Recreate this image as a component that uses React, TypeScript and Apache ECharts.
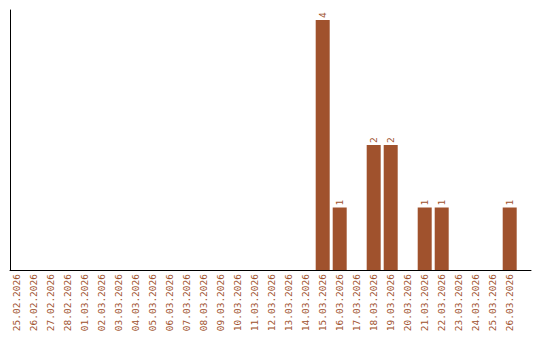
import React, { useEffect, useRef } from "react";
import * as echarts from "echarts";

const dates = [
  "25.02.2026", "26.02.2026", "27.02.2026", "28.02.2026", "01.03.2026",
  "02.03.2026", "03.03.2026", "04.03.2026", "05.03.2026", "06.03.2026",
  "07.03.2026", "08.03.2026", "09.03.2026", "10.03.2026", "11.03.2026",
  "12.03.2026", "13.03.2026", "14.03.2026", "15.03.2026", "16.03.2026",
  "17.03.2026", "18.03.2026", "19.03.2026", "20.03.2026", "21.03.2026",
  "22.03.2026", "23.03.2026", "24.03.2026", "25.03.2026", "26.03.2026",
];
const counts = [
  0, 0, 0, 0, 0, 0, 0, 0, 0, 0,
  0, 0, 0, 0, 0, 0, 0, 0, 4, 1,
  0, 2, 2, 0, 1, 1, 0, 0, 0, 1,
];
const yMax = 4.16;

const BROWN = "#A0522D";

export default function App() {
  const ref = useRef<HTMLDivElement>(null);
  useEffect(() => {
    if (!ref.current) return;
    const chart = echarts.init(ref.current, null, { renderer: "svg" });
    chart.setOption({
      animation: false,
      grid: [
        { left: 8.2, width: 510, top: 10, bottom: 70, outerBoundsMode: "none" },
        { left: 10, right: 9, top: 10, bottom: 70, outerBoundsMode: "none" },
      ],
      xAxis: [
        {
          type: "category",
          gridIndex: 0,
          data: dates,
          axisLine: { show: false },
          axisTick: { show: false },
          axisLabel: {
            interval: 0,
            rotate: 90,
            margin: 4,
            color: BROWN,
            fontFamily: "'DejaVu Sans Mono', monospace",
            fontSize: 9.5,
          },
        },
        {
          type: "value",
          gridIndex: 1,
          min: 0,
          max: 1,
          axisLine: { show: true, onZero: false, lineStyle: { color: "#000", width: 1 } },
          axisTick: { show: false },
          axisLabel: { show: false },
          splitLine: { show: false },
        },
      ],
      yAxis: [
        {
          type: "value",
          gridIndex: 0,
          min: 0,
          max: yMax,
          axisLine: { show: false },
          axisTick: { show: false },
          axisLabel: { show: false },
          splitLine: { show: false },
        },
        {
          type: "value",
          gridIndex: 1,
          min: 0,
          max: 1,
          axisLine: { show: true, onZero: false, lineStyle: { color: "#000", width: 1 } },
          axisTick: { show: false },
          axisLabel: { show: false },
          splitLine: { show: false },
        },
      ],
      series: [
        {
          type: "bar",
          xAxisIndex: 0,
          yAxisIndex: 0,
          data: counts,
          barWidth: 14,
          itemStyle: { color: BROWN },
          label: {
            show: true,
            position: "top",
            rotate: 90,
            align: "left",
            verticalAlign: "middle",
            distance: 2,
            color: BROWN,
            fontFamily: "'DejaVu Sans Mono', monospace",
            fontSize: 9.5,
            formatter: (p: any) => (p.value ? String(p.value) : ""),
          },
        },
      ],
    });
    return () => chart.dispose();
  }, []);
  return <div ref={ref} style={{ width: 540, height: 340, margin: -8 }} />;
}
